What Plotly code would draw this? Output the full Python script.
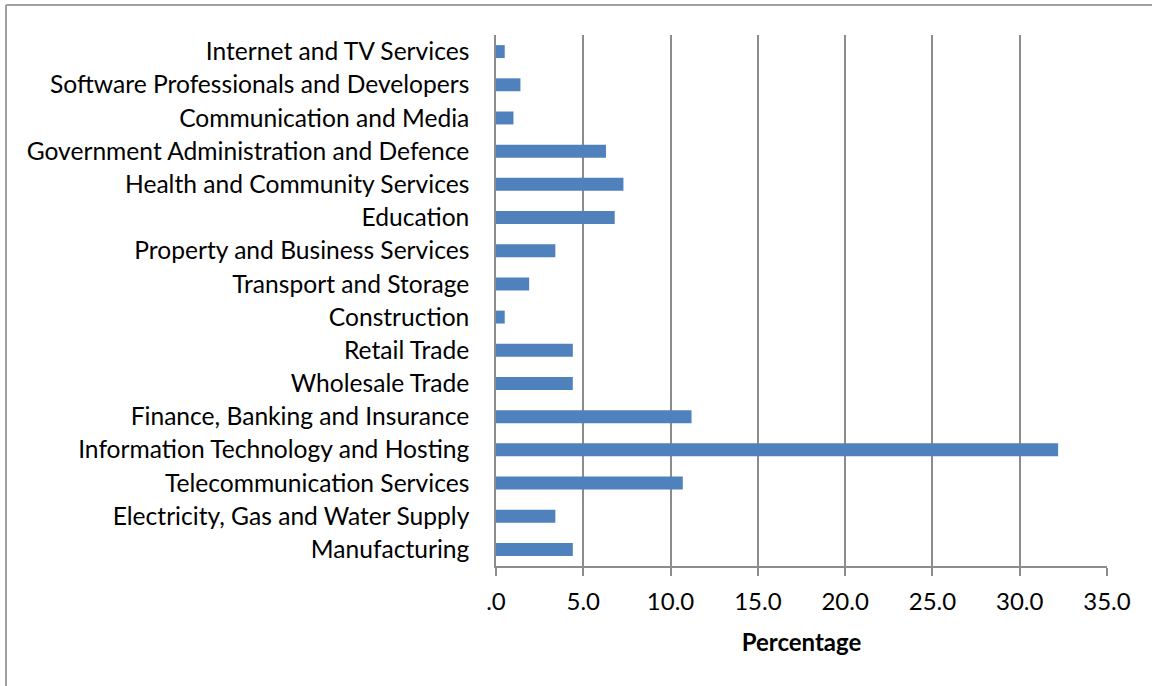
import plotly.graph_objects as go

# Share of respondents by industry sector (percent)
categories = [
    "Manufacturing",
    "Electricity, Gas and Water Supply",
    "Telecommunication Services",
    "Information Technology and Hosting",
    "Finance, Banking and Insurance",
    "Wholesale Trade",
    "Retail Trade",
    "Construction",
    "Transport and Storage",
    "Property and Business Services",
    "Education",
    "Health and Community Services",
    "Government Administration and Defence",
    "Communication and Media",
    "Software Professionals and Developers",
    "Internet and TV Services",
]
percentages = [4.4, 3.4, 10.7, 32.2, 11.2, 4.4, 4.4, 0.5, 1.9, 3.4, 6.8, 7.3, 6.3, 1.0, 1.4, 0.5]
tick_values = [0, 5, 10, 15, 20, 25, 30, 35]
tick_labels = [".0", "5.0", "10.0", "15.0", "20.0", "25.0", "30.0", "35.0"]

W, H = 1152, 686
L, R, T, B = 496, 45, 35, 120
FONT = "Lato"
GRID = "#8c8c8c"

fig = go.Figure(
    go.Bar(
        x=percentages,
        y=categories,
        orientation="h",
        marker=dict(color="#4f81bd", line=dict(width=0)),
        hoverinfo="x+y",
    )
)

plot_w = W - L - R
plot_h = H - T - B


def px_to_paper_x(px):
    return (px - L) / plot_w


def px_to_paper_y(py):
    return (H - B - py) / plot_h


# chart frame: top and left edges
fig.add_shape(type="line", xref="paper", yref="paper",
              x0=px_to_paper_x(6), x1=px_to_paper_x(1160),
              y0=px_to_paper_y(5), y1=px_to_paper_y(5),
              line=dict(color="#a0a0a0", width=2))
fig.add_shape(type="line", xref="paper", yref="paper",
              x0=px_to_paper_x(6), x1=px_to_paper_x(6),
              y0=px_to_paper_y(5), y1=px_to_paper_y(700),
              line=dict(color="#a0a0a0", width=2))

fig.update_layout(
    width=W,
    height=H,
    margin=dict(l=L, r=R, t=T, b=B, pad=0),
    paper_bgcolor="white",
    plot_bgcolor="white",
    bargap=0.61,
    showlegend=False,
    font=dict(family=FONT, size=24, color="#000000"),
    xaxis=dict(
        range=[0, 35],
        tickvals=tick_values,
        ticktext=tick_labels,
        showgrid=True,
        gridcolor=GRID,
        gridwidth=1.5,
        zeroline=False,
        showline=True,
        linecolor=GRID,
        linewidth=1.5,
        ticks="outside",
        ticklen=8,
        tickcolor=GRID,
        tickwidth=1.5,
        tickfont=dict(family=FONT, size=24),
        ticklabelstandoff=5,
        title=dict(text="<b>Percentage</b>", font=dict(family=FONT, size=24), standoff=21),
        fixedrange=True,
    ),
    yaxis=dict(
        showgrid=False,
        zeroline=False,
        showline=True,
        linecolor=GRID,
        linewidth=1.5,
        ticks="",
        tickfont=dict(family=FONT, size=24.6),
        ticklabelstandoff=20,
        range=[-0.5, len(categories) - 0.5],
        fixedrange=True,
    ),
)

fig.write_html("out.html")
